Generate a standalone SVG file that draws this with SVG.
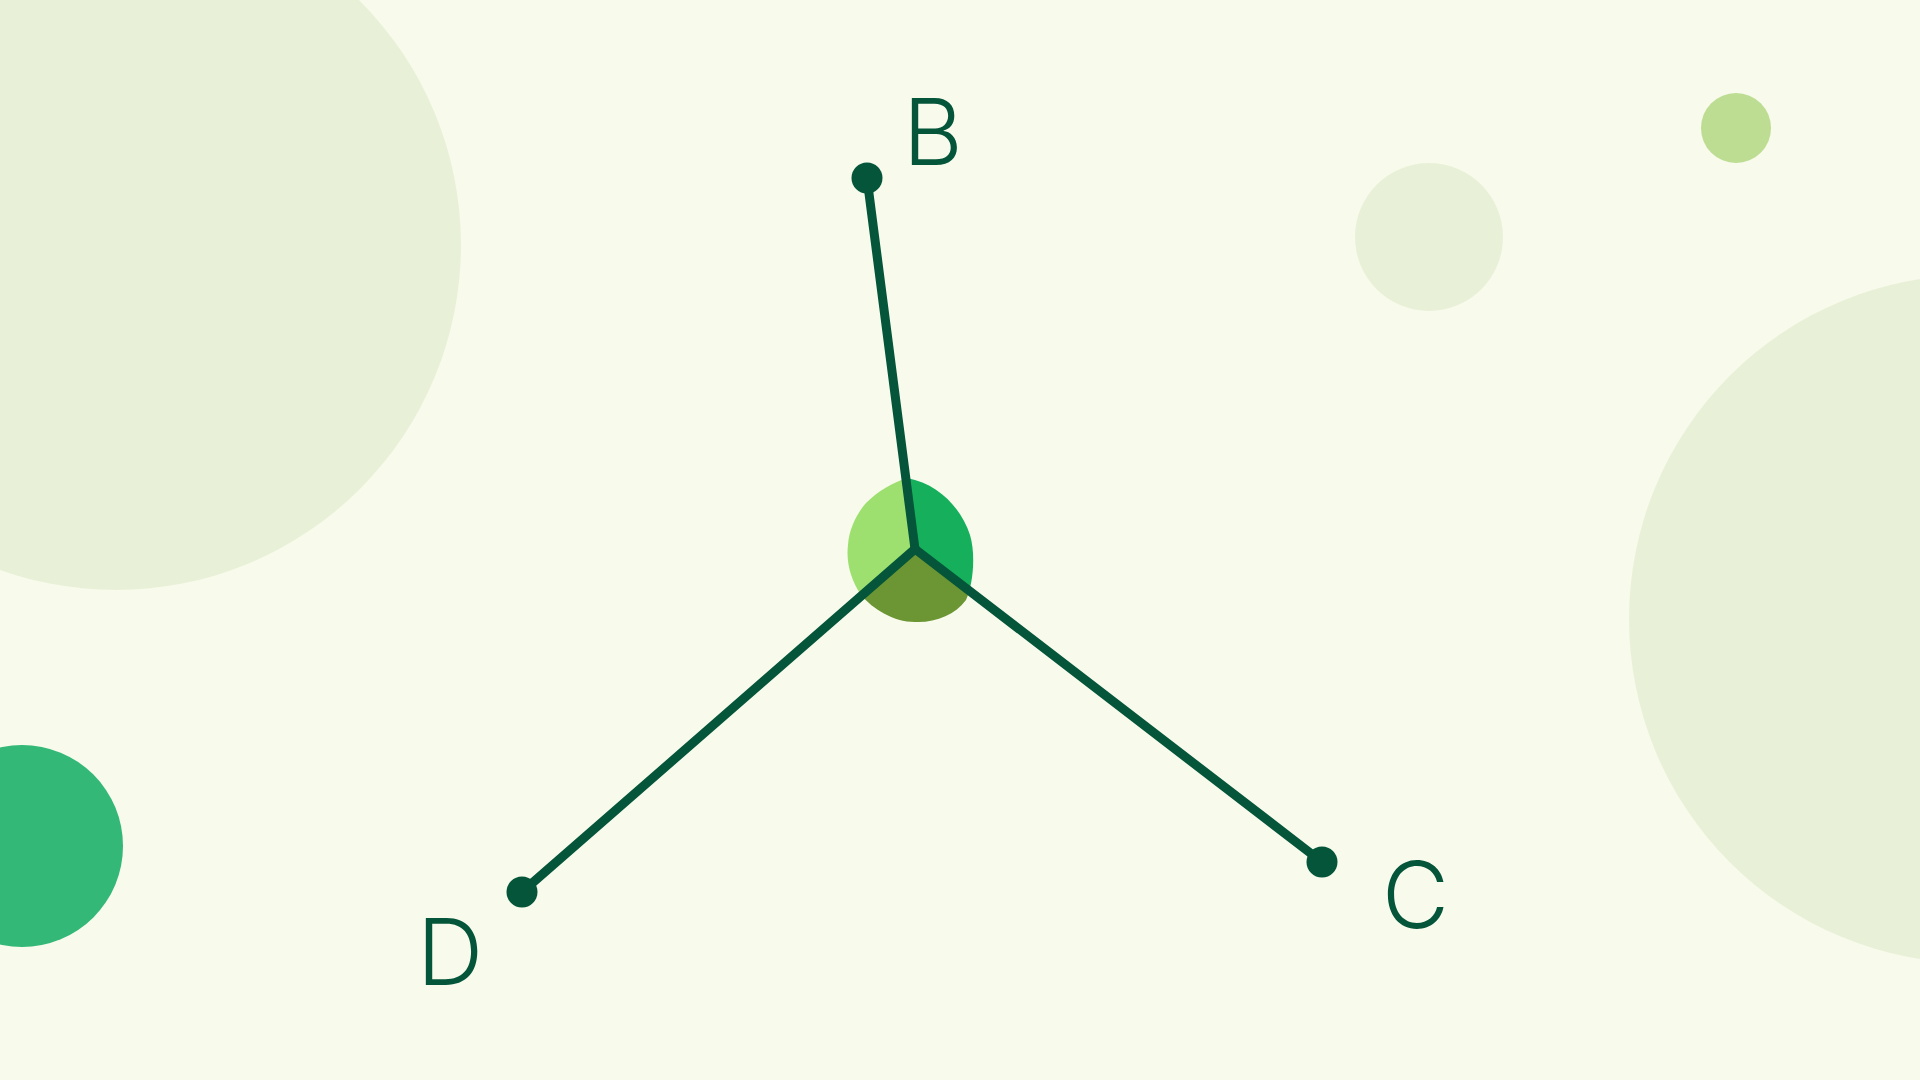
<svg xmlns="http://www.w3.org/2000/svg" width="1920" height="1080" viewBox="0 0 1920 1080">
  <style>
    .bgc { fill: #e8f1d8; }
    .edge { stroke: #04553a; stroke-width: 9; stroke-linecap: round; fill: none; }
    .dot { fill: #04553a; }
    .lbl { fill: #04553a; font-family: Inter, "Noto Sans", "Liberation Sans", sans-serif; font-size: 92px; font-weight: 300; }
  </style>
  <defs>
    <clipPath id="blobClip">
      <path d="M 907,478 C 940,484 962,510 970,535 C 976,555 973,585 966,600 C 955,615 935,623 915,622 C 893,622 872,608 862,596 C 850,580 846,560 848,545 C 849,528 858,512 866,503 C 878,491 894,482 907,478 Z"/>
    </clipPath>
  </defs>
  <rect width="1920" height="1080" fill="#f8faec"/>
  <g id="background">
    <circle class="bgc" cx="116" cy="245" r="345"/>
    <circle class="bgc" cx="1973" cy="619" r="344"/>
    <circle class="bgc" cx="1429" cy="237" r="74"/>
    <circle cx="1736" cy="128" r="35" fill="#bcdd92"/>
    <circle cx="22" cy="846" r="101" fill="#33b877"/>
  </g>
  <g id="node-center">
    <g clip-path="url(#blobClip)">
      <polygon points="915,549 890,357 700,357 700,720 718,720" fill="#9de070"/>
      <polygon points="915,549 890,357 1150,357 1150,705 1118,705" fill="#16b05c"/>
      <polygon points="915,549 1118,705 1118,800 718,800 718,720" fill="#6b9633"/>
    </g>
  </g>
  <g id="connectors">
    <line class="edge" x1="915" y1="549" x2="867" y2="178"/>
    <line class="edge" x1="915" y1="549" x2="1322" y2="862"/>
    <line class="edge" x1="915" y1="549" x2="522" y2="892"/>
  </g>
  <g id="node-B">
    <circle class="dot" cx="867" cy="178" r="15.5"/>
    <text class="lbl" x="903" y="165">B</text>
  </g>
  <g id="node-C">
    <circle class="dot" cx="1322" cy="862" r="15.5"/>
    <text class="lbl" x="1382" y="928">C</text>
  </g>
  <g id="node-D">
    <circle class="dot" cx="522" cy="892" r="15.5"/>
    <text class="lbl" x="417" y="985">D</text>
  </g>
</svg>
